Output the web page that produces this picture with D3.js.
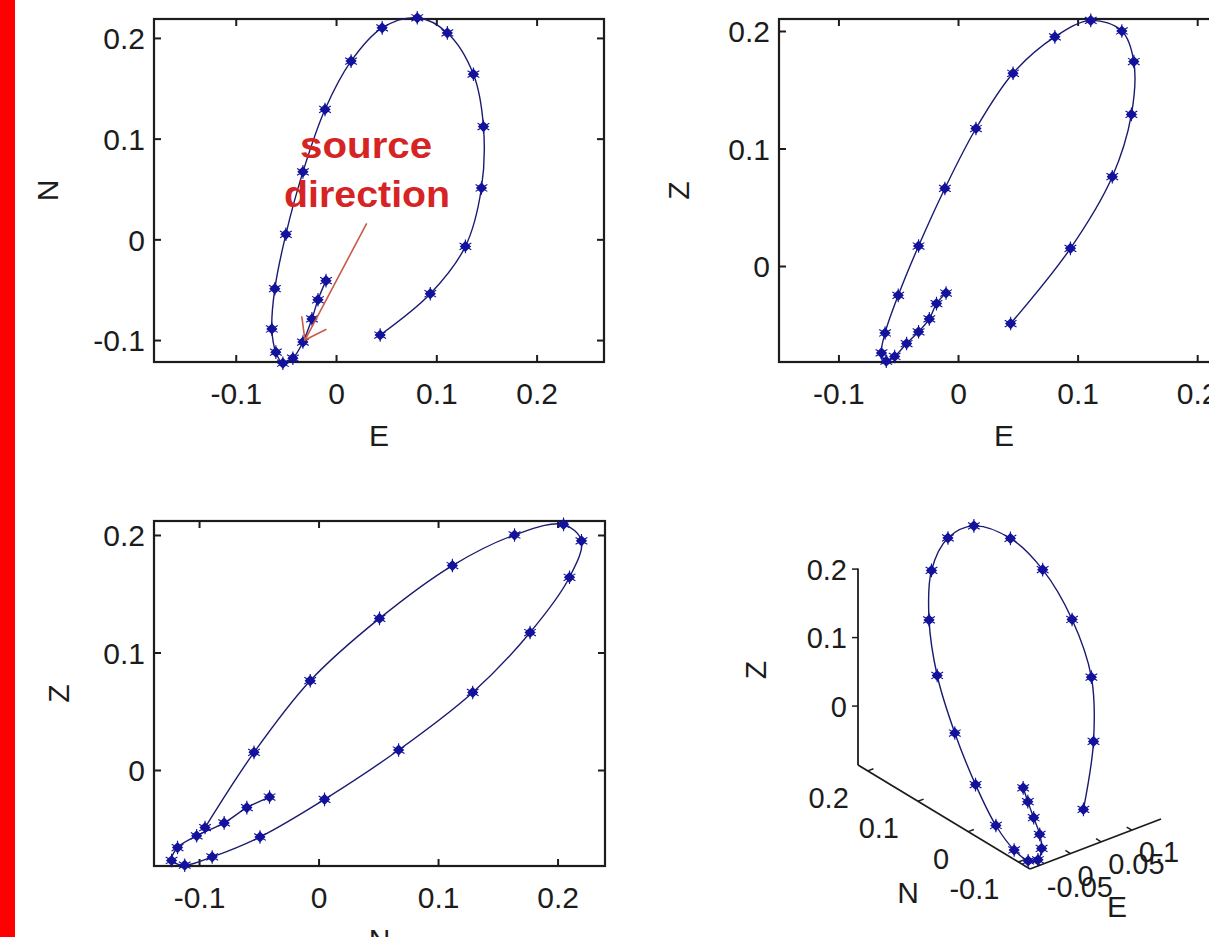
<!DOCTYPE html>
<html>
<head>
<meta charset="utf-8">
<script src="https://cdn.jsdelivr.net/npm/d3@7"></script>
<style>
  body { margin: 0; background: #fff; }
  svg { display: block; font-family: "Liberation Sans", Arial, sans-serif; }
</style>
</head>
<body>
<div id="chart"></div>
<script>
// particle motion samples, one entry per marker
var eVals = [0.044, 0.094, 0.129, 0.145, 0.147, 0.137, 0.111, 0.081, 0.046, 0.015, -0.011,
             -0.033, -0.050, -0.061, -0.064, -0.060, -0.053, -0.043, -0.033, -0.024, -0.018, -0.010];
var nVals = [-0.095, -0.054, -0.007, 0.051, 0.112, 0.164, 0.205, 0.220, 0.210, 0.177, 0.129,
             0.067, 0.005, -0.049, -0.089, -0.112, -0.123, -0.118, -0.102, -0.079, -0.060, -0.041];
var zVals = [-0.049, 0.015, 0.076, 0.129, 0.174, 0.200, 0.209, 0.195, 0.164, 0.117, 0.066,
             0.017, -0.025, -0.057, -0.074, -0.081, -0.077, -0.066, -0.056, -0.045, -0.032, -0.023];

var ticks2d = [-0.1, 0, 0.1, 0.2];
var zTicks3d = [0, 0.1, 0.2];
var nTicks3d = [-0.1, 0, 0.1, 0.2];
var eTicks3d = [-0.05, 0, 0.05, 0.1];

// annotation in the E-N panel (data units)
var arrowTail = [0.0306, 0.0159];
var arrowTip = [-0.031, -0.100];
var noteLines = ["source", "direction"];
var noteAt = [[0.030, 0.081], [0.031, 0.032]];

var W = 1209, H = 937;
var FONT = 30, FONT3 = 29;
var LINE = "#1a1a70", MARK = "#12129c", INK = "#1c1c1c";

var svg = d3.select("#chart").append("svg")
    .attr("width", W)
    .attr("height", H);

svg.append("rect")
    .attr("width", W).attr("height", H)
    .attr("fill", "#fff");

svg.append("rect")
    .attr("x", 0).attr("y", 0)
    .attr("width", 15).attr("height", H)
    .attr("fill", "#ff0000");

var fmt = function(d) { return String(d); };
var diamond = d3.symbol().type(d3.symbolDiamond2 || d3.symbolDiamond).size(80);
var star = d3.symbol().type(d3.symbolAsterisk || d3.symbolCross).size(130);

function drawTrace(g, pts) {
    var line = d3.line()
        .x(function(d) { return d[0]; })
        .y(function(d) { return d[1]; })
        .curve(d3.curveCatmullRom.alpha(0.5));
    g.append("path")
        .attr("d", line(pts))
        .attr("fill", "none")
        .attr("stroke", LINE)
        .attr("stroke-width", 1.4);
    var mk = g.selectAll(".mk").data(pts).enter().append("g")
        .attr("class", "mk")
        .attr("transform", function(d) { return "translate(" + d[0] + "," + d[1] + ")"; });
    mk.append("path").attr("d", star).attr("fill", "none").attr("stroke", MARK).attr("stroke-width", 1.1);
    mk.append("path").attr("d", diamond).attr("fill", MARK);
}

// 2D panel, matlab style box with inward ticks on all sides
function panel(cfg) {
    var g = svg.append("g");
    var x = d3.scaleLinear().domain(cfg.xDomain).range([cfg.left, cfg.right]);
    var y = d3.scaleLinear().domain(cfg.yDomain).range([cfg.bottom, cfg.top]);
    var inside = function(dom) {
        return ticks2d.filter(function(t) { return t >= dom[0] && t <= dom[1]; });
    };
    var xt = inside(cfg.xDomain), yt = inside(cfg.yDomain);

    var bottomAx = g.append("g")
        .attr("transform", "translate(0," + cfg.bottom + ")")
        .call(d3.axisBottom(x).tickValues(xt).tickSize(-7).tickFormat(fmt));
    g.append("g")
        .attr("transform", "translate(0," + cfg.top + ")")
        .call(d3.axisTop(x).tickValues(xt).tickSize(-7).tickFormat(""));
    var leftAx = g.append("g")
        .attr("transform", "translate(" + cfg.left + ",0)")
        .call(d3.axisLeft(y).tickValues(yt).tickSize(-7).tickFormat(fmt));
    g.append("g")
        .attr("transform", "translate(" + cfg.right + ",0)")
        .call(d3.axisRight(y).tickValues(yt).tickSize(-7).tickFormat(""));

    g.selectAll(".domain").remove();
    g.selectAll(".tick line").attr("stroke", INK).attr("stroke-width", 2);
    g.selectAll(".tick text")
        .attr("fill", INK)
        .style("font-size", FONT + "px")
        .style("font-family", "'Liberation Sans', Arial, sans-serif");
    // place labels like matlab does
    bottomAx.selectAll(".tick text").attr("y", 42).attr("dy", null);
    leftAx.selectAll(".tick text").attr("x", -9).attr("dy", "0.36em");

    g.append("rect")
        .attr("x", cfg.left).attr("y", cfg.top)
        .attr("width", cfg.right - cfg.left)
        .attr("height", cfg.bottom - cfg.top)
        .attr("fill", "none")
        .attr("stroke", INK)
        .attr("stroke-width", 2.2);

    g.append("text")
        .attr("x", (cfg.left + cfg.right) / 2)
        .attr("y", cfg.bottom + 84)
        .attr("text-anchor", "middle")
        .attr("fill", INK)
        .style("font-size", FONT + "px")
        .text(cfg.xLabel);
    g.append("text")
        .attr("transform", "translate(" + cfg.yLabelX + "," + ((cfg.top + cfg.bottom) / 2) + ") rotate(-90)")
        .attr("text-anchor", "middle")
        .attr("fill", INK)
        .style("font-size", FONT + "px")
        .text(cfg.yLabel);

    var pts = cfg.xs.map(function(v, i) { return [x(v), y(cfg.ys[i])]; });
    drawTrace(g, pts);
    return {g: g, x: x, y: y};
}

var en = panel({
    left: 154, right: 604, top: 19, bottom: 362,
    xDomain: [-0.1815, 0.2672], yDomain: [-0.1218, 0.2188],
    xs: eVals, ys: nVals, xLabel: "E", yLabel: "N", yLabelX: 58
});

panel({
    left: 779, right: 1229, top: 19, bottom: 362,
    xDomain: [-0.1497, 0.2266], yDomain: [-0.0817, 0.2102],
    xs: eVals, ys: zVals, xLabel: "E", yLabel: "Z", yLabelX: 689
});

panel({
    left: 154, right: 605, top: 521, bottom: 866,
    xDomain: [-0.1377, 0.2397], yDomain: [-0.0817, 0.2119],
    xs: nVals, ys: zVals, xLabel: "N", yLabel: "Z", yLabelX: 69
});

// source direction note
var note = en.g.append("g");
note.selectAll("text").data(noteLines).enter().append("text")
    .attr("x", function(d, i) { return en.x(noteAt[i][0]); })
    .attr("y", function(d, i) { return en.y(noteAt[i][1]); })
    .attr("text-anchor", "middle")
    .attr("fill", "#d62424")
    .style("font-size", "36px")
    .style("font-weight", "bold")
    .attr("textLength", function(d, i) { return i === 0 ? 132 : 166; })
    .attr("lengthAdjust", "spacingAndGlyphs")
    .text(function(d) { return d; });

var tip = [en.x(arrowTip[0]), en.y(arrowTip[1])];
var tail = [en.x(arrowTail[0]), en.y(arrowTail[1])];
var ang = Math.atan2(tail[1] - tip[1], tail[0] - tip[0]);
var wing = 24, spread = 0.62;
note.append("path")
    .attr("d", "M" + tail + "L" + tip +
        "M" + [tip[0] + wing * Math.cos(ang + spread), tip[1] + wing * Math.sin(ang + spread)] + "L" + tip +
        "L" + [tip[0] + wing * Math.cos(ang - spread), tip[1] + wing * Math.sin(ang - spread)])
    .attr("fill", "none")
    .attr("stroke", "#c85a48")
    .attr("stroke-width", 1.6);

// 3D view: orthographic projection from the front-bottom corner
var corner = [1030, 869];
var eVec = [131, -50], nVec = [-172, -104];
var e3 = d3.scaleLinear().domain([-0.066, 0.1475]).range([0, 1]);
var n3 = d3.scaleLinear().domain([-0.123, 0.2195]).range([0, 1]);
var z3 = d3.scaleLinear().domain([-0.086, 0.201]).range([0, -196.6]);

function project(e, n, z) {
    return [corner[0] + e3(e) * eVec[0] + n3(n) * nVec[0],
            corner[1] + e3(e) * eVec[1] + n3(n) * nVec[1] + z3(z)];
}

var g3 = svg.append("g");
var eMin = e3.domain()[0], eMax = e3.domain()[1];
var nMin = n3.domain()[0], nMax = n3.domain()[1];
var zMin = z3.domain()[0], zMax = z3.domain()[1];
var axes3 = [
    [project(eMin, nMax, zMin), project(eMin, nMax, zMax)],
    [project(eMin, nMax, zMin), project(eMin, nMin, zMin)],
    [project(eMin, nMin, zMin), project(eMax, nMin, zMin)]
];
g3.selectAll(".ax").data(axes3).enter().append("path")
    .attr("class", "ax")
    .attr("d", function(d) { return "M" + d[0] + "L" + d[1]; })
    .attr("stroke", INK)
    .attr("stroke-width", 1.8);

function unit(v, len) {
    var l = Math.sqrt(v[0] * v[0] + v[1] * v[1]);
    return [v[0] / l * len, v[1] / l * len];
}
var tE = unit(eVec, 6), tN = unit(nVec, 6);

var zt = g3.selectAll(".zt").data(zTicks3d).enter().append("g").attr("class", "zt")
    .attr("transform", function(d) { return "translate(" + project(eMin, nMax, d) + ")"; });
zt.append("line").attr("x2", -6).attr("stroke", INK).attr("stroke-width", 1.5);
zt.append("text").attr("x", -11).attr("dy", "0.36em").attr("text-anchor", "end")
    .attr("fill", INK).style("font-size", FONT3 + "px").text(fmt);

var nt = g3.selectAll(".nt").data(nTicks3d).enter().append("g").attr("class", "nt")
    .attr("transform", function(d) { return "translate(" + project(eMin, d, zMin) + ")"; });
nt.append("line").attr("x2", tE[0]).attr("y2", tE[1]).attr("stroke", INK).attr("stroke-width", 1.5);
nt.append("text").attr("x", -19).attr("y", 37).attr("text-anchor", "end")
    .attr("fill", INK).style("font-size", FONT3 + "px").text(fmt);

var et = g3.selectAll(".et").data(eTicks3d).enter().append("g").attr("class", "et")
    .attr("transform", function(d) { return "translate(" + project(d, nMin, zMin) + ")"; });
et.append("line").attr("x2", tN[0]).attr("y2", tN[1]).attr("stroke", INK).attr("stroke-width", 1.5);
et.append("text").attr("x", 7).attr("y", 32).attr("text-anchor", "start")
    .attr("fill", INK).style("font-size", FONT3 + "px").text(fmt);

g3.append("text")
    .attr("transform", "translate(766,670) rotate(-90)")
    .attr("text-anchor", "middle").attr("fill", INK)
    .style("font-size", FONT + "px").text("Z");
g3.append("text")
    .attr("x", 908).attr("y", 903)
    .attr("text-anchor", "middle").attr("fill", INK)
    .style("font-size", FONT + "px").text("N");
g3.append("text")
    .attr("x", 1117).attr("y", 917)
    .attr("text-anchor", "middle").attr("fill", INK)
    .style("font-size", FONT + "px").text("E");

var pts3 = eVals.map(function(v, i) { return project(v, nVals[i], zVals[i]); });
drawTrace(g3, pts3);
</script>
</body>
</html>
